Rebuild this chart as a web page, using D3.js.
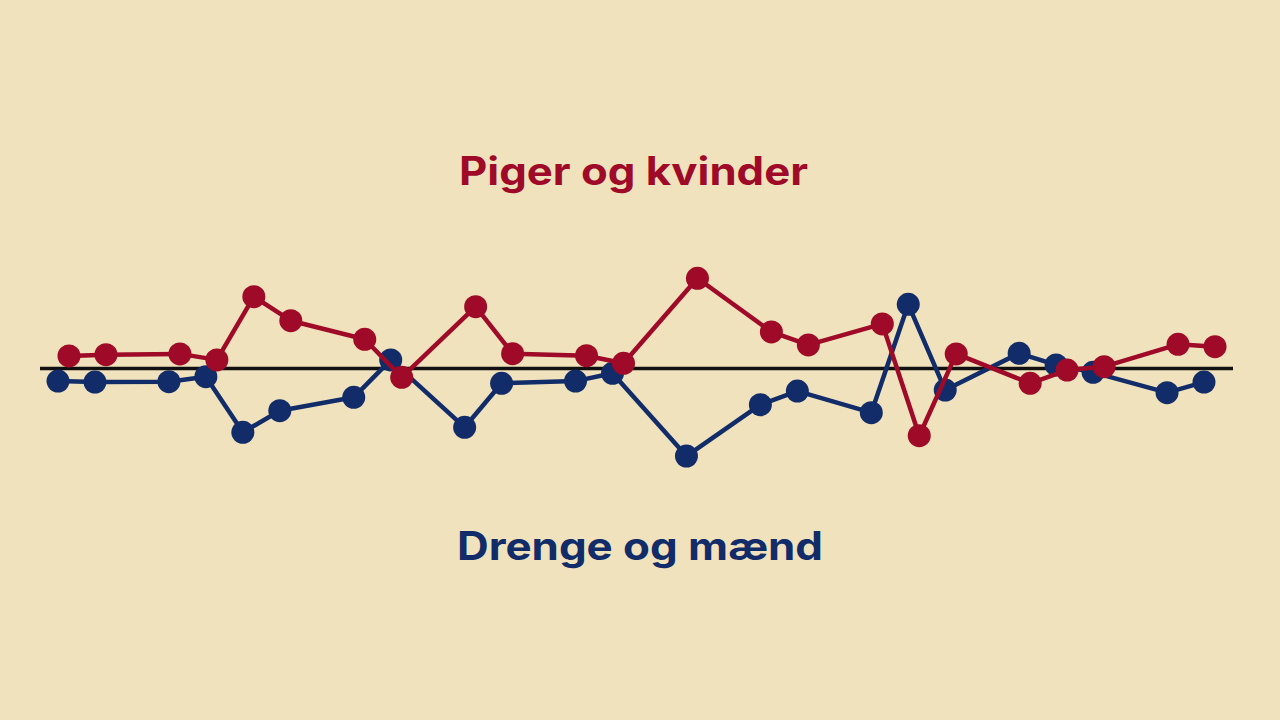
<!DOCTYPE html>
<html>
<head>
<meta charset="utf-8">
<script src="https://cdn.jsdelivr.net/npm/d3@7"></script>
<style>
html,body{margin:0;padding:0;background:#f0e2bc;}
svg{display:block;}
</style>
</head>
<body>
<svg id="chart" width="1280" height="720"></svg>
<script>
// Time index of each observation (gaps where no observation)
const periods = [0,1,3,4,5,6,8,9,11,12,14,15,17,19,20,22,23,24,26,27,28,30,31];
// Deviation from the common level (arbitrary units)
const girls = [0.63,0.69,0.73,0.43,3.59,2.39,1.46,-0.44,3.09,0.74,0.64,0.26,4.51,1.83,1.18,2.23,-3.36,0.73,-0.74,-0.08,0.09,1.21,1.09];
const boys  = [-0.63,-0.68,-0.66,-0.41,-3.19,-2.11,-1.44,0.43,-2.94,-0.74,-0.63,-0.24,-4.38,-1.81,-1.13,-2.21,3.21,-1.08,0.76,0.18,-0.19,-1.21,-0.68];
const labels = ["Piger og kvinder","Drenge og mænd"];

const svg = d3.select("#chart");
const x = d3.scaleLinear().domain([0,31]).range([58,1204]);
const y = d3.scaleLinear().domain([-10,10]).range([568.5,168.5]);

const RED = "#9e0a27", BLUE = "#112c69";

svg.append("rect").attr("width",1280).attr("height",720).attr("fill","#f0e2bc");

// baseline
svg.append("line")
  .attr("x1",40).attr("x2",1233)
  .attr("y1",y(0)).attr("y2",y(0))
  .attr("stroke","#111").attr("stroke-width",3.5);

function drawSeries(vals, color, dx){
  const data = periods.map((p,i)=>({p, v: vals[i]}));
  const line = d3.line().x(d=>x(d.p)+dx).y(d=>y(d.v));
  const g = svg.append("g");
  g.append("path").datum(data).attr("d",line)
    .attr("fill","none").attr("stroke",color).attr("stroke-width",4.5)
    .attr("stroke-linejoin","round");
  g.selectAll("circle").data(data).join("circle")
    .attr("cx",d=>x(d.p)+dx).attr("cy",d=>y(d.v)).attr("r",11.5)
    .attr("fill",color);
}
drawSeries(boys, BLUE, 0);
drawSeries(girls, RED, 11);

svg.append("text").text(labels[0])
  .attr("x",633.5).attr("y",185).attr("text-anchor","middle")
  .attr("font-family","Inter, 'Noto Sans', sans-serif").attr("font-weight",700)
  .attr("font-size",39).attr("fill",RED)
  .attr("textLength",349).attr("lengthAdjust","spacingAndGlyphs");
svg.append("text").text(labels[1])
  .attr("x",640).attr("y",560).attr("text-anchor","middle")
  .attr("font-family","Inter, 'Noto Sans', sans-serif").attr("font-weight",700)
  .attr("font-size",39).attr("fill",BLUE)
  .attr("textLength",366).attr("lengthAdjust","spacingAndGlyphs");
</script>
</body>
</html>
